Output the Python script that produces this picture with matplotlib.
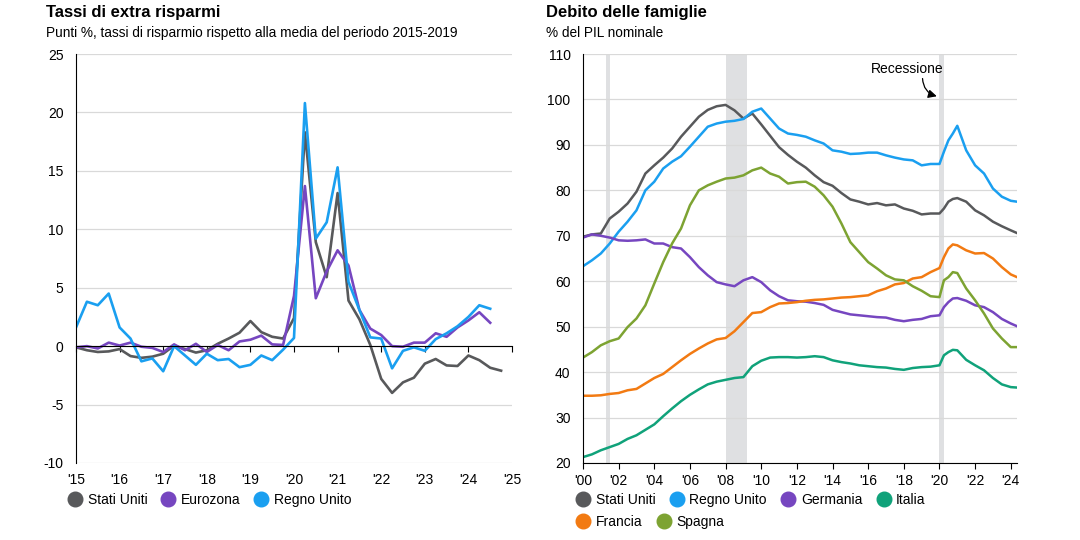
import numpy as np
import matplotlib
matplotlib.use("Agg")
import matplotlib.pyplot as plt
from matplotlib.lines import Line2D

plt.rcParams['font.family'] = ['Liberation Sans', 'DejaVu Sans']
plt.rcParams['axes.unicode_minus'] = False

# ---- left panel: extra saving rates, quarterly from 2015Q1 ----
us_savings = [-0.1, -0.35, -0.5, -0.45, -0.25, -0.85, -1.0, -0.9,
              -0.65, 0.05, -0.25, -0.55, -0.35, 0.2, 0.65, 1.15,
              2.15, 1.2, 0.8, 0.65, 2.4, 18.3, 8.9, 5.9,
              13.1, 3.9, 2.3, 0.1, -2.8, -4.0, -3.1, -2.7,
              -1.5, -1.1, -1.65, -1.7, -0.8, -1.2, -1.85, -2.1]
ez_savings = [-0.1, 0.0, -0.2, 0.3, 0.05, 0.3, -0.05, -0.15,
              -0.5, 0.15, -0.35, 0.2, -0.5, 0.1, -0.35, 0.4,
              0.55, 0.9, 0.15, 0.1, 4.3, 13.7, 4.1, 6.4,
              8.2, 6.9, 3.1, 1.5, 0.95, 0.0, -0.05, 0.3,
              0.3, 1.1, 0.8, 1.6, 2.2, 2.9, 2.0]
uk_savings = [1.6, 3.8, 3.5, 4.5, 1.6, 0.65, -1.3, -1.05,
              -2.15, 0.0, -0.8, -1.6, -0.65, -1.2, -1.1, -1.8,
              -1.6, -0.8, -1.2, -0.3, 0.7, 20.8, 9.2, 10.6,
              15.3, 5.5, 3.1, 0.75, 0.65, -1.9, -0.4, -0.1,
              -0.4, 0.6, 1.1, 1.7, 2.5, 3.5, 3.2]
left_years = list(range(2015, 2026))

# ---- right panel: household debt, % of GDP ----
debt_dates = [2000.0, 2000.5, 2001.0, 2001.5, 2002.0, 2002.5, 2003.0, 2003.5,
              2004.0, 2004.5, 2005.0, 2005.5, 2006.0, 2006.5, 2007.0, 2007.5,
              2008.0, 2008.5, 2009.0, 2009.5, 2010.0, 2010.5, 2011.0, 2011.5,
              2012.0, 2012.5, 2013.0, 2013.5, 2014.0, 2014.5, 2015.0, 2015.5,
              2016.0, 2016.5, 2017.0, 2017.5, 2018.0, 2018.5, 2019.0, 2019.5,
              2020.0, 2020.25, 2020.5, 2020.75, 2021.0, 2021.5, 2022.0, 2022.5,
              2023.0, 2023.5, 2024.0, 2024.35]
debt_us = [69.8, 70.3, 70.5, 73.8, 75.3, 77.1, 79.7, 83.7,
           85.5, 87.2, 89.2, 91.8, 94.0, 96.2, 97.7, 98.5,
           98.8, 97.6, 95.8, 96.9, 94.5, 92.0, 89.5, 87.8,
           86.3, 85.0, 83.3, 81.8, 81.0, 79.4, 78.0, 77.5,
           76.9, 77.2, 76.7, 76.9, 76.0, 75.5, 74.7, 74.9,
           74.9, 76.0, 77.5, 78.1, 78.3, 77.5, 75.6, 74.5,
           73.1, 72.1, 71.2, 70.6]
debt_uk = [63.3, 64.6, 66.1, 68.3, 70.9, 73.1, 75.6, 80.0,
           81.9, 84.8, 86.3, 87.5, 89.6, 91.8, 94.0, 94.7,
           95.1, 95.3, 95.7, 97.3, 98.0, 95.8, 93.6, 92.5,
           92.2, 91.8, 91.0, 90.3, 88.8, 88.5, 88.0, 88.1,
           88.3, 88.3, 87.7, 87.2, 86.8, 86.6, 85.5, 85.8,
           85.8, 88.5, 91.0, 92.5, 94.2, 88.8, 85.5, 83.7,
           80.4, 78.6, 77.7, 77.5]
debt_de = [69.6, 70.3, 70.0, 69.6, 69.0, 68.9, 69.0, 69.2,
           68.3, 68.3, 67.5, 67.2, 65.3, 63.1, 61.3, 59.8,
           59.3, 58.9, 60.2, 60.9, 59.8, 58.0, 56.7, 55.8,
           55.6, 55.5, 55.2, 54.8, 53.7, 53.2, 52.7, 52.5,
           52.3, 52.1, 52.0, 51.5, 51.2, 51.5, 51.7, 52.3,
           52.5, 54.3, 55.4, 56.2, 56.3, 55.7, 54.7, 54.3,
           53.2, 51.7, 50.7, 50.1]
debt_it = [21.3, 21.9, 22.8, 23.5, 24.2, 25.3, 26.1, 27.3,
           28.5, 30.3, 32.0, 33.6, 35.0, 36.2, 37.3, 37.9,
           38.3, 38.7, 38.9, 41.3, 42.5, 43.2, 43.3, 43.3,
           43.2, 43.3, 43.5, 43.3, 42.6, 42.2, 41.9, 41.5,
           41.3, 41.1, 41.0, 40.7, 40.5, 40.9, 41.1, 41.2,
           41.5, 43.7, 44.4, 44.9, 44.8, 42.7, 41.5, 40.4,
           38.7, 37.3, 36.7, 36.6]
debt_fr = [34.8, 34.8, 34.9, 35.2, 35.4, 36.0, 36.3, 37.5,
           38.7, 39.6, 41.1, 42.6, 44.0, 45.2, 46.3, 47.2,
           47.5, 49.0, 51.0, 53.0, 53.2, 54.3, 55.1, 55.2,
           55.4, 55.7, 55.9, 56.0, 56.2, 56.4, 56.5, 56.7,
           56.9, 57.8, 58.4, 59.3, 59.6, 60.6, 60.9, 62.0,
           62.9, 65.3, 67.2, 68.1, 67.9, 66.8, 66.1, 66.2,
           65.0, 63.1, 61.5, 60.9]
debt_es = [43.2, 44.4, 45.9, 46.8, 47.4, 49.9, 51.8, 54.7,
           59.5, 64.2, 68.3, 71.6, 76.7, 80.0, 81.1, 81.9,
           82.6, 82.8, 83.3, 84.4, 85.0, 83.7, 83.0, 81.5,
           81.8, 81.9, 80.8, 78.9, 76.4, 72.7, 68.6, 66.4,
           64.2, 62.8, 61.3, 60.4, 60.2, 58.9, 57.9, 56.7,
           56.5, 60.2, 60.9, 62.0, 61.8, 58.4, 55.8, 52.9,
           49.6, 47.4, 45.5, 45.5]
recessions = [(2001.3, 2001.5), (2008.05, 2009.2), (2020.0, 2020.25)]
right_years = list(range(2000, 2025, 2))

c_us = '#58595b'
c_ez = '#7646c0'
c_uk = '#1a9ff0'
c_it = '#10a27a'
c_fr = '#f27a12'
c_es = '#7da332'
grid_c = '#d9d9d9'

fig = plt.figure(figsize=(10.8, 5.4), dpi=100)
ax1 = fig.add_axes([76/1080, 1-463/540, 436/1080, 409/540])
ax2 = fig.add_axes([583/1080, 1-463/540, 434/1080, 409/540])

# left panel
q = 2015 + np.arange(len(us_savings)) / 4
ax1.plot(q, us_savings, color=c_us, lw=1.9)
ax1.plot(q[:len(ez_savings)], ez_savings, color=c_ez, lw=1.9)
ax1.plot(q[:len(uk_savings)], uk_savings, color=c_uk, lw=1.9)
ax1.set_xlim(2015, 2025)
ax1.set_ylim(-10, 25)
ax1.set_yticks(range(-10, 26, 5))
ax1.yaxis.grid(True, color=grid_c, lw=0.9)
ax1.set_axisbelow(True)
for s in ['top', 'right']:
    ax1.spines[s].set_visible(False)
ax1.spines['left'].set_color('black')
ax1.spines['bottom'].set_position(('data', 0))
ax1.spines['bottom'].set_color('black')
ax1.set_xticks(left_years)
ax1.tick_params(axis='x', direction='out', length=4, color='black', labelbottom=False)
ax1.tick_params(axis='y', length=0, pad=9, labelsize=10)
sec = ax1.secondary_xaxis('bottom')
sec.set_xticks(left_years)
sec.set_xticklabels(["'" + str(y)[2:] for y in left_years])
sec.spines['bottom'].set_visible(False)
sec.tick_params(length=0, pad=7, labelsize=10)

h1 = [Line2D([], [], ls='none', marker='o', ms=10.5, color=c) for c in [c_us, c_ez, c_uk]]
ax1.legend(h1, ['Stati Uniti', 'Eurozona', 'Regno Unito'], ncol=3, frameon=False,
           loc='center left', bbox_to_anchor=(-0.018, -0.09), borderaxespad=0, borderpad=0,
           handlelength=1.0, handletextpad=0.4, columnspacing=1.0, fontsize=10)

# right panel
for a, b in recessions:
    ax2.axvspan(a, b, color='#dfe0e2', lw=0, zorder=0.5)
ax2.plot(debt_dates, debt_us, color=c_us, lw=1.8)
ax2.plot(debt_dates, debt_uk, color=c_uk, lw=1.8)
ax2.plot(debt_dates, debt_de, color=c_ez, lw=1.8)
ax2.plot(debt_dates, debt_it, color=c_it, lw=1.8)
ax2.plot(debt_dates, debt_fr, color=c_fr, lw=1.8)
ax2.plot(debt_dates, debt_es, color=c_es, lw=1.8)
ax2.set_xlim(2000, 2024.35)
ax2.set_ylim(20, 110)
ax2.set_yticks(range(20, 111, 10))
ax2.yaxis.grid(True, color=grid_c, lw=0.9)
ax2.set_axisbelow(True)
for s in ['top', 'right']:
    ax2.spines[s].set_visible(False)
ax2.spines['left'].set_color('black')
ax2.spines['bottom'].set_color('black')
ax2.set_xticks(right_years)
ax2.set_xticklabels(["'" + str(y)[2:] for y in right_years])
ax2.tick_params(axis='x', direction='out', length=4, pad=4, labelsize=10)
ax2.tick_params(axis='y', length=0, pad=9, labelsize=10)

ax2.text(2018.2, 106.7, 'Recessione', ha='center', va='center', fontsize=10)
ax2.annotate('', xy=(2019.85, 100.7), xytext=(2019.05, 104.6),
             arrowprops=dict(arrowstyle='-|>,head_length=0.5,head_width=0.25',
                             color='black', lw=0.9, connectionstyle='arc3,rad=0.35',
                             shrinkA=0, shrinkB=0))

h_row1 = [Line2D([], [], ls='none', marker='o', ms=10.5, color=c) for c in [c_us, c_uk, c_ez, c_it]]
leg1 = ax2.legend(h_row1, ['Stati Uniti', 'Regno Unito', 'Germania', 'Italia'], ncol=4,
                  frameon=False, loc='center left', bbox_to_anchor=(-0.016, -0.09),
                  borderaxespad=0, borderpad=0, handlelength=1.0, handletextpad=0.4,
                  columnspacing=1.05, fontsize=10)
ax2.add_artist(leg1)
h_row2 = [Line2D([], [], ls='none', marker='o', ms=10.5, color=c) for c in [c_fr, c_es]]
ax2.legend(h_row2, ['Francia', 'Spagna'], ncol=2, frameon=False, loc='center left',
           bbox_to_anchor=(-0.016, -0.144), borderaxespad=0, borderpad=0,
           handlelength=1.0, handletextpad=0.4, columnspacing=1.05, fontsize=10)

# titles
fig.text(46/1080, 1-13/540, 'Tassi di extra risparmi', fontsize=12, fontweight='bold', va='center')
fig.text(46/1080, 1-33/540, 'Punti %, tassi di risparmio rispetto alla media del periodo 2015-2019',
         fontsize=9.8, va='center')
fig.text(546/1080, 1-13/540, 'Debito delle famiglie', fontsize=12, fontweight='bold', va='center')
fig.text(546/1080, 1-33/540, '% del PIL nominale', fontsize=9.8, va='center')

fig.savefig('out.png', dpi=100)
